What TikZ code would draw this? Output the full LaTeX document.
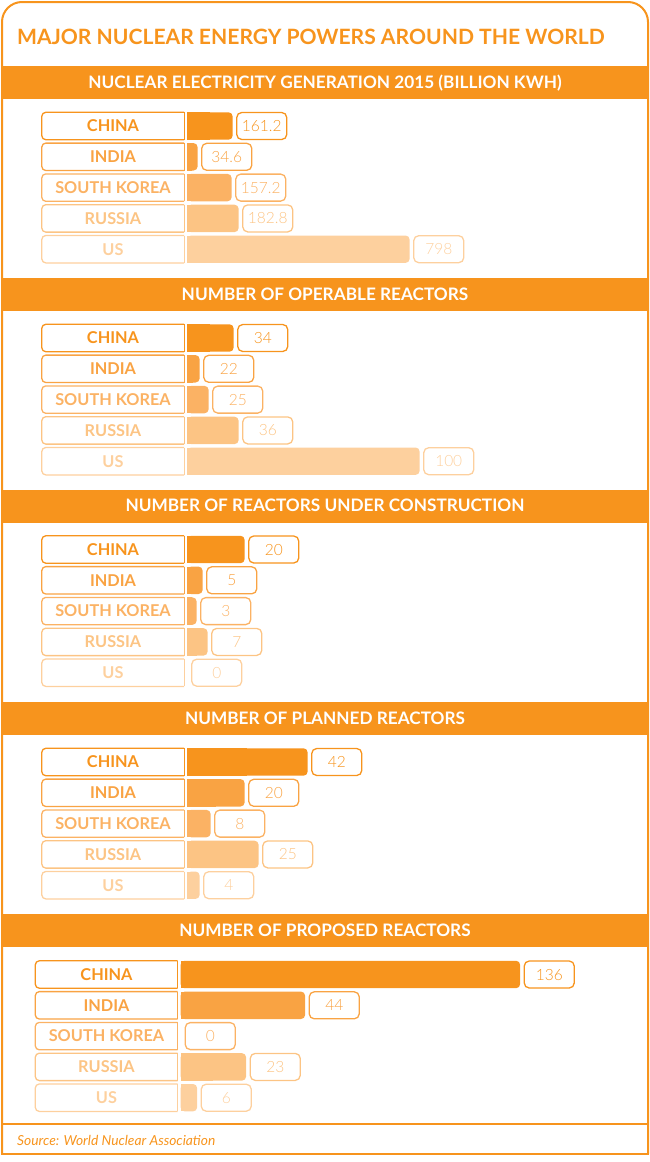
\documentclass[tikz,border=0pt]{standalone}
\usepackage{fontspec}
\setmainfont{Lato}
\newfontfamily\valfont{Lato Light}
\usetikzlibrary{positioning}

\definecolor{nucA}{HTML}{F7941D}
\definecolor{nucB}{HTML}{F9A343}
\definecolor{nucC}{HTML}{FBB264}
\definecolor{nucD}{HTML}{FCC484}
\definecolor{nucE}{HTML}{FDD09E}

\tikzset{
  frame/.style={draw=nucA, line width=2pt},
  title/.style={anchor=base west, inner sep=0pt, text=nucA, font=\bfseries\fontsize{21.1}{24}\selectfont},
  band/.style={fill=nucA, minimum width=648pt, minimum height=33pt, inner sep=0pt,
    text height=11.8pt, text depth=0pt, text=white, font=\bfseries\fontsize{17.2}{19}\selectfont},
  country/.style={minimum width=142pt, minimum height=27pt, inner sep=0pt,
    text height=11.7pt, text depth=0pt, font=\bfseries\fontsize{16.3}{18}\selectfont},
  bar/.style={minimum height=27pt, inner sep=0pt, anchor=west},
  value/.style={draw, rounded corners=5pt, line width=1.3pt, minimum width=50pt, minimum height=27pt,
    inner sep=0pt, text height=11pt, text depth=0pt, font=\valfont\fontsize{15.5}{17}\selectfont},
  source/.style={anchor=base west, inner sep=0pt, text=nucA, font=\itshape\fontsize{13.8}{16}\selectfont}
}

% #1 name, #2 x, #3 y, #4 colour, #5 country, #6 bar length, #7 value
\newcommand\nucrow[7]{%
  \node[country, text=#4] (#1-lbl) at (#2,#3) {#5};
  \draw[#4, line width=1.3pt, rounded corners=4pt]
    (#1-lbl.south east) -- (#1-lbl.south west) -- (#1-lbl.north west) -- (#1-lbl.north east);
  \draw[#4, line width=1.3pt] (#1-lbl.north east) -- (#1-lbl.south east);
  \node[bar, minimum width=#6pt] (#1-bar) at ([xshift=3pt]#1-lbl.east) {};
  \ifdim#6pt>0pt
    \fill[#4, rounded corners=4pt] (#1-bar.south west) rectangle (#1-bar.north east);
    \fill[#4] (#1-bar.south west) rectangle (#1-bar.north);
  \fi
  \node[value, draw=#4, text=#4, right=3.5pt of #1-bar] (#1-val) {#7};
}

\begin{document}
\begin{tikzpicture}[x=1pt, y=-1pt]
  \useasboundingbox (0,0) rectangle (650,1162);
  \draw[frame, rounded corners=20pt] (2,1154) -- (2,2) -- (648,2) -- (648,1154);
  \draw[frame, line cap=rect] (2,1154) -- (648,1154);
  \draw[frame] (2,1124) -- (648,1124);

  \node[title] (title) at (17,44) {MAJOR NUCLEAR ENERGY POWERS AROUND THE WORLD};
  \node[source] (source) at (17,1145) {Source: World Nuclear Association};

  \node[band] (gen) at (325,82.5) {NUCLEAR ELECTRICITY GENERATION 2015 (BILLION KWH)};
  \node[band] (oper) at (325,294.5) {NUMBER OF OPERABLE REACTORS};
  \node[band] (build) at (325,506) {NUMBER OF REACTORS UNDER CONSTRUCTION};
  \node[band] (plan) at (325,718.5) {NUMBER OF PLANNED REACTORS};
  \node[band] (prop) at (325,930.5) {NUMBER OF PROPOSED REACTORS};

  \nucrow{gen-cn}{113}{126}{nucA}{CHINA}{45}{161.2}
  \nucrow{gen-in}{113}{156.8}{nucB}{INDIA}{10}{34.6}
  \nucrow{gen-kr}{113}{187.6}{nucC}{SOUTH KOREA}{44}{157.2}
  \nucrow{gen-ru}{113}{218.4}{nucD}{RUSSIA}{51}{182.8}
  \nucrow{gen-us}{113}{249.2}{nucE}{US}{222}{798}

  \nucrow{oper-cn}{113}{338}{nucA}{CHINA}{46}{34}
  \nucrow{oper-in}{113}{368.8}{nucB}{INDIA}{12}{22}
  \nucrow{oper-kr}{113}{399.6}{nucC}{SOUTH KOREA}{21}{25}
  \nucrow{oper-ru}{113}{430.4}{nucD}{RUSSIA}{51}{36}
  \nucrow{oper-us}{113}{461.2}{nucE}{US}{232}{100}

  \nucrow{build-cn}{113}{549.5}{nucA}{CHINA}{57}{20}
  \nucrow{build-in}{113}{580.3}{nucB}{INDIA}{15}{5}
  \nucrow{build-kr}{113}{611.1}{nucC}{SOUTH KOREA}{9}{3}
  \nucrow{build-ru}{113}{641.9}{nucD}{RUSSIA}{20}{7}
  \nucrow{build-us}{113}{672.7}{nucE}{US}{0}{0}

  \nucrow{plan-cn}{113}{762}{nucA}{CHINA}{120}{42}
  \nucrow{plan-in}{113}{792.8}{nucB}{INDIA}{57}{20}
  \nucrow{plan-kr}{113}{823.6}{nucC}{SOUTH KOREA}{23}{8}
  \nucrow{plan-ru}{113}{854.4}{nucD}{RUSSIA}{71}{25}
  \nucrow{plan-us}{113}{885.2}{nucE}{US}{12}{4}

  \nucrow{prop-cn}{106.5}{974.5}{nucA}{CHINA}{339}{136}
  \nucrow{prop-in}{106.5}{1005.3}{nucB}{INDIA}{124}{44}
  \nucrow{prop-kr}{106.5}{1036.1}{nucC}{SOUTH KOREA}{0}{0}
  \nucrow{prop-ru}{106.5}{1066.9}{nucD}{RUSSIA}{65}{23}
  \nucrow{prop-us}{106.5}{1097.7}{nucE}{US}{16}{6}
\end{tikzpicture}
\end{document}
